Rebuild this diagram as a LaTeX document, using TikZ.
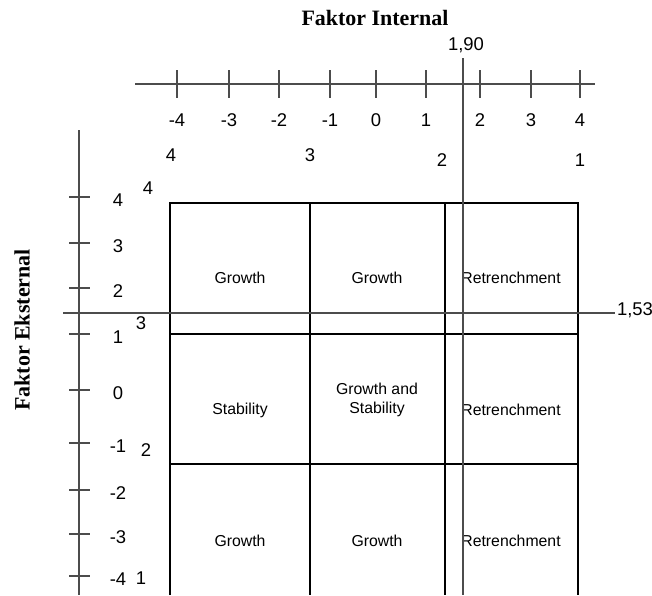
\documentclass[tikz,border=0pt]{standalone}
\usepackage{fontspec}
\setmainfont{Liberation Sans}
\newfontfamily\titlefont{Liberation Serif}
\begin{document}
\begin{tikzpicture}[x=0.02cm,y=-0.02cm,
    every node/.style={black,font=\fontsize{10.5}{12}\selectfont},
    axisline/.style={line width=1.1pt,black!70},
    cellline/.style={line width=0.7pt,black},
    celltext/.style={align=center,font=\fontsize{9}{11}\selectfont},
    heading/.style={font=\titlefont\bfseries\fontsize{12.5}{14}\selectfont}]
    \useasboundingbox (0,0) rectangle (652,595);

    % titles
    \node[heading] (intitle) at (375,18) {Faktor Internal};
    \node[heading,rotate=90] (extitle) at (22,330) {Faktor Eksternal};

    % internal axis
    \draw[axisline] (135,84) -- (595,84);
    \foreach \x/\t [count=\i] in {177/-4,229/-3,279/-2,330/-1,376/0,426/1,480/2,531/3,580/4}
        \draw[axisline] (\x,70) -- (\x,98) (\x,120) node (tx\i) {\t};
    \node (ia) at (171,155) {4};
    \node (ib) at (310,155) {3};
    \node (ic) at (442,160) {2};
    \node (id) at (580,160) {1};

    % external axis
    \draw[axisline] (79,130) -- (79,595);
    \foreach \y/\t [count=\i] in {197/4,243/3,288/2,334/1,390/0,443/-1,490/-2,534/-3,576/-4}
        \draw[axisline] (69,\y) -- (90,\y) (118,\y+3) node (ty\i) {\t};
    \node (ea) at (148,188) {4};
    \node (eb) at (141,323) {3};
    \node (ec) at (146,450) {2};
    \node (ed) at (141,578) {1};

    % matrix cells
    \draw[cellline] (170,595) -- (170,203) -- (578,203) -- (578,595);
    \draw[cellline] (310,203) -- (310,595) (445,203) -- (445,595);
    \draw[cellline] (170,334) -- (578,334) (170,464) -- (578,464);

    \node[celltext] (c11) at (240,278) {Growth};
    \node[celltext] (c12) at (377,278) {Growth};
    \node[celltext] (c13) at (511,278) {Retrenchment};
    \node[celltext] (c21) at (240,410) {Stability};
    \node[celltext] (c22) at (377,400) {Growth and\\Stability};
    \node[celltext] (c23) at (511,410) {Retrenchment};
    \node[celltext] (c31) at (240,541) {Growth};
    \node[celltext] (c32) at (377,541) {Growth};
    \node[celltext] (c33) at (511,541) {Retrenchment};

    % position of the firm
    \draw[axisline] (463,58) -- (463,595);
    \draw[axisline] (63,313) -- (615,313);
    \node (xval) at (466,45) {1,90};
    \node (yval) at (635,310) {1,53};
\end{tikzpicture}
\end{document}
